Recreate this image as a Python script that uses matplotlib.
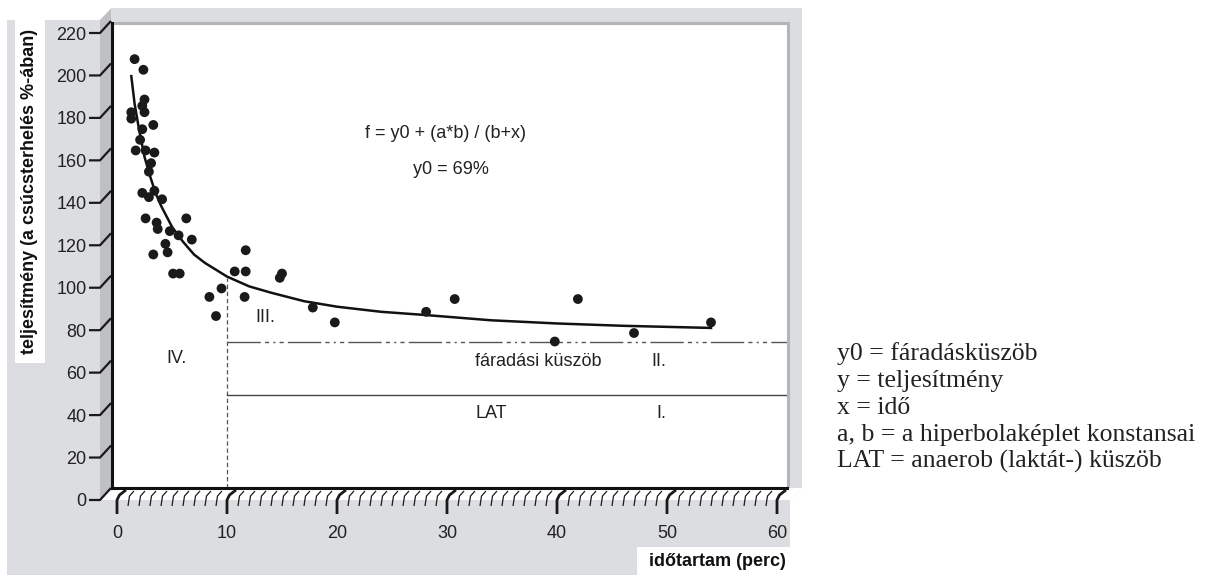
import matplotlib
matplotlib.use("Agg")
import matplotlib.pyplot as plt
from matplotlib.patches import Polygon, Rectangle

# measured points: duration (min) and performance (% of peak load)
ido = [1.6, 2.4, 2.5, 2.3, 1.3, 1.3, 2.5, 3.3, 2.3, 2.1, 1.7, 2.6, 3.4, 3.1, 2.9,
       2.3, 3.4, 2.9, 4.1, 2.6, 3.6, 3.7, 6.3, 4.8, 5.6, 6.8, 4.4, 4.6, 3.3, 5.1,
       5.7, 9.5, 11.7, 10.7, 11.7, 15.0, 14.8, 8.4, 11.6, 9.0, 17.8, 19.8, 28.1,
       30.7, 41.9, 39.8, 47.0, 54.0]
telj = [202, 197, 183, 180, 177, 174, 177, 171, 169, 164, 159, 159, 158, 153, 149,
        139, 140, 137, 136, 127, 125, 122, 127, 121, 119, 117, 115, 111, 110, 101,
        101, 94, 112, 102, 102, 101, 99, 90, 90, 81, 85, 78, 83,
        89, 89, 69, 73, 78]

# fitted hyperbola
gorbe_x = [1.3, 1.6, 2.0, 2.5, 3.0, 3.5, 4, 5, 6, 7, 8, 10, 12, 14, 17, 20, 24, 28, 34, 40, 46, 54]
gorbe_y = [194, 181, 169, 156, 147, 139, 133, 123, 116, 110, 106, 99.6, 95, 92, 88, 85.4, 83, 81.5, 79, 77.5, 76.4, 75.4]

y0 = 69          # fáradási küszöb
lat = 44         # LAT
hatar = 10       # IV / III határ
hatar_top = 99

x_ticks = [0, 10, 20, 30, 40, 50, 60]
y_ticks = [0, 20, 40, 60, 80, 100, 120, 140, 160, 180, 200, 220]

jelmagyarazat = ["y0 = fáradásküszöb", "y = teljesítmény", "x = idő",
                 "a, b = a hiperbolaképlet konstansai", "LAT = anaerob (laktát-) küszöb"]

W, H = 1214, 577
SANS = "Liberation Sans"
LIGHT = "#dcdde0"
DARK = "#bfc0c4"
INK = "#1a1a1a"
FS = 13

fig = plt.figure(figsize=(W / 100, H / 100), dpi=100)

# pixel-space background layer
bg = fig.add_axes([0, 0, 1, 1], zorder=0)
bg.set_xlim(0, W)
bg.set_ylim(H, 0)
bg.axis("off")

bg.add_patch(Polygon([(7, 20), (100, 20), (111, 8), (802, 8), (802, 488), (790, 500),
                      (790, 575), (7, 575)], closed=True, fc=LIGHT, ec="none"))
bg.add_patch(Rectangle((112, 23), 675, 465, fc="white", ec="none"))
bg.plot([112, 789], [22.5, 22.5], color="#b4b5b9", lw=2.2, solid_capstyle="butt")
bg.plot([787.5, 787.5], [22, 487], color="#b4b5b9", lw=2.2, solid_capstyle="butt")
bg.add_patch(Polygon([(100, 20), (111, 9), (111, 488), (100, 500)], closed=True, fc=DARK, ec="none"))
bg.add_patch(Polygon([(100, 500), (112, 488), (802, 488), (790, 500)], closed=True, fc="white", ec="none"))
bg.add_patch(Rectangle((15, 20), 30, 343, fc="white", ec="none"))
bg.add_patch(Rectangle((637, 547), 153, 30, fc="white", ec="none"))

# front plane axes: carries the tick labels
fr = fig.add_axes([117 / W, (H - 500) / H, 660 / W, 467 / H], zorder=1)
fr.set_xlim(0, 60)
fr.set_ylim(0, 220)
fr.patch.set_alpha(0)
for s in fr.spines.values():
    s.set_visible(False)
fr.set_xticks(x_ticks)
fr.set_yticks(y_ticks)
fr.tick_params(axis="y", length=0, pad=22, labelsize=FS)
fr.tick_params(axis="x", length=0, pad=18, labelsize=FS)
for t in fr.get_xticklabels() + fr.get_yticklabels():
    t.set_fontfamily(SANS)
    t.set_color("#222222")


def to_px(axes, x, y):
    d = axes.transData.transform((x, y))
    return bg.transData.inverted().transform(d)


# 3D style tick marks
for v in y_ticks:
    px, py = to_px(fr, 0, v)
    bg.plot([89, 100, 111], [py, py, py - 12], color=INK, lw=1.6,
            solid_joinstyle="round", solid_capstyle="butt")
for v in range(0, 61):
    px, py = to_px(fr, v, 0)
    if v % 10 == 0:
        bg.plot([px, px, px + 2.5, px + 9], [py + 14, py, py - 5, py - 10], color=INK, lw=2.0,
                solid_joinstyle="round", solid_capstyle="butt")
    else:
        bg.plot([px, px + 1.5, px + 6], [py + 6, py - 4, py - 9], color=INK, lw=0.9,
                solid_joinstyle="round", solid_capstyle="butt")

# data axes (back plane)
ax = fig.add_axes([112 / W, (H - 488) / H, 675 / W, 465 / H], zorder=2)
ax.set_xlim((112 - 117) / 11, (787 - 117) / 11)
ax.set_ylim(0, 465 / 2.123)
ax.patch.set_alpha(0)
ax.set_xticks([])
ax.set_yticks([])
ax.spines["top"].set_visible(False)
ax.spines["right"].set_visible(False)
for k in ["left", "bottom"]:
    ax.spines[k].set_linewidth(2.2)
    ax.spines[k].set_color("#111111")

xmax = ax.get_xlim()[1]
ax.plot([hatar, hatar], [0, hatar_top], color="#555555", lw=0.9, dashes=(3.5, 2.2))
ax.plot([hatar, xmax], [y0, y0], color="#555555", lw=1.0,
        dashes=(24, 3, 3, 3, 1.5, 3, 3, 3))
ax.plot([hatar, xmax], [lat, lat], color="#444444", lw=1.0)
ax.plot(gorbe_x, gorbe_y, color="#111111", lw=1.8, zorder=3)
ax.scatter(ido, telj, s=50, color=INK, edgecolors="none", zorder=4)

txt = dict(fontfamily=SANS, fontsize=FS, color="#222222", ha="center", va="center")
ax.text(29.9, 167.2, "f = y0 + (a*b) / (b+x)", **txt)
ax.text(30.4, 149.8, "y0 = 69%", **txt)
ax.text(5.45, 61.2, "IV.", **txt)
ax.text(13.45, 80.5, "III.", **txt)
ax.text(38.3, 59.8, "fáradási küszöb", **txt)
ax.text(49.3, 59.8, "II.", **txt)
ax.text(34.0, 35.3, "LAT", **txt)
ax.text(49.5, 35.3, "I.", **txt)

# axis titles
bg.text(30, 191, "teljesítmény (a csúcsterhelés %-ában)", rotation=90, ha="center", va="center",
        fontfamily=SANS, fontsize=FS, fontweight="bold", color="#111111")
bg.text(786, 562, "időtartam (perc)", ha="right", va="center",
        fontfamily=SANS, fontsize=FS, fontweight="bold", color="#111111")

# legend on the right
for i, line in enumerate(jelmagyarazat):
    bg.text(837, 360 + 27 * i, line, ha="left", va="baseline",
            fontfamily="Liberation Serif", fontsize=18.5, color="#222222")

fig.savefig("out.png", dpi=100)
